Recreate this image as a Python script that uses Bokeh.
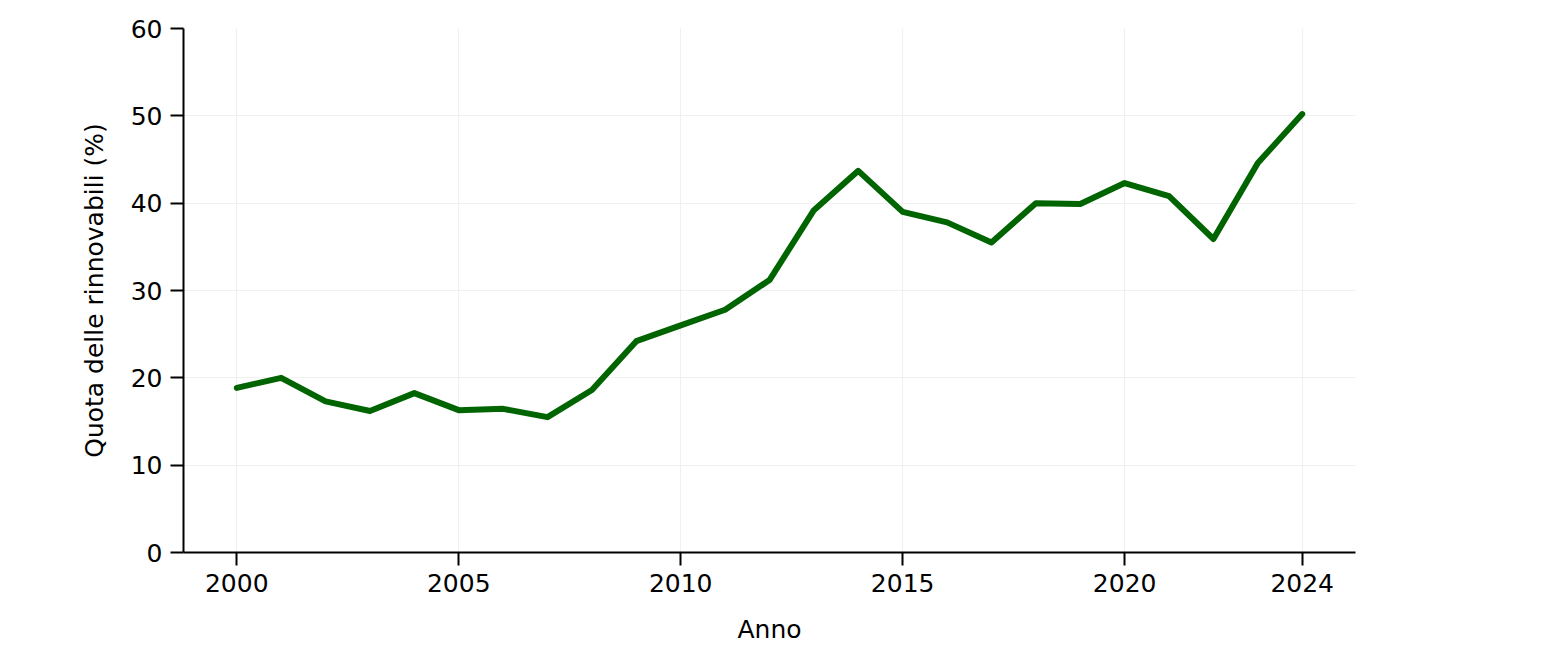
from bokeh.plotting import figure
from bokeh.models import ColumnDataSource, FixedTicker, Range1d
from bokeh.embed import file_html
from bokeh.resources import INLINE

years = [2000, 2001, 2002, 2003, 2004, 2005, 2006, 2007, 2008, 2009, 2010, 2011,
         2012, 2013, 2014, 2015, 2016, 2017, 2018, 2019, 2020, 2021, 2022, 2023, 2024]
share = [18.85, 20.0, 17.3, 16.2, 18.25, 16.3, 16.45, 15.5, 18.6, 24.2, 26.0, 27.8,
         31.2, 39.2, 43.7, 39.0, 37.8, 35.5, 40.0, 39.9, 42.3, 40.8, 35.9, 44.6, 50.2]
x_ticks = [2000, 2005, 2010, 2015, 2020, 2024]
y_ticks = [0, 10, 20, 30, 40, 50, 60]

FONT = "DejaVu Sans"

source = ColumnDataSource(data=dict(year=years, share=share))

p = figure(frame_width=1172, frame_height=524,
           min_border_left=183, min_border_right=180,
           min_border_top=28, min_border_bottom=97,
           x_range=Range1d(1998.8, 2025.2), y_range=Range1d(0, 60),
           output_backend="svg", toolbar_location=None)

p.line("year", "share", source=source, line_color="#006400", line_width=6,
       line_cap="round", line_join="round")

p.outline_line_color = None
p.background_fill_color = "white"
p.border_fill_color = "white"

p.xaxis.ticker = FixedTicker(ticks=x_ticks)
p.yaxis.ticker = FixedTicker(ticks=y_ticks)
p.xgrid.ticker = FixedTicker(ticks=x_ticks)
p.ygrid.ticker = FixedTicker(ticks=y_ticks)
p.grid.grid_line_color = "#f0f0f0"
p.grid.grid_line_width = 1.2

for ax in (p.xaxis, p.yaxis):
    ax.axis_line_color = "black"
    ax.axis_line_width = 2
    ax.major_tick_line_color = "black"
    ax.major_tick_line_width = 2
    ax.major_tick_out = 13
    ax.major_tick_in = 0
    ax.minor_tick_line_color = None
    ax.major_label_text_font = FONT
    ax.major_label_text_font_size = "25px"
    ax.major_label_text_color = "black"
    ax.axis_label_text_font = FONT
    ax.axis_label_text_font_size = "25px"
    ax.axis_label_text_font_style = "normal"
    ax.axis_label_text_color = "black"

p.xaxis.axis_label = "Anno"
p.yaxis.axis_label = "Quota delle rinnovabili (%)"
p.xaxis.major_label_standoff = 8
p.yaxis.major_label_standoff = 8
p.xaxis.axis_label_standoff = 20
p.yaxis.axis_label_standoff = 19

open("out.html", "w").write(file_html(p, INLINE))
